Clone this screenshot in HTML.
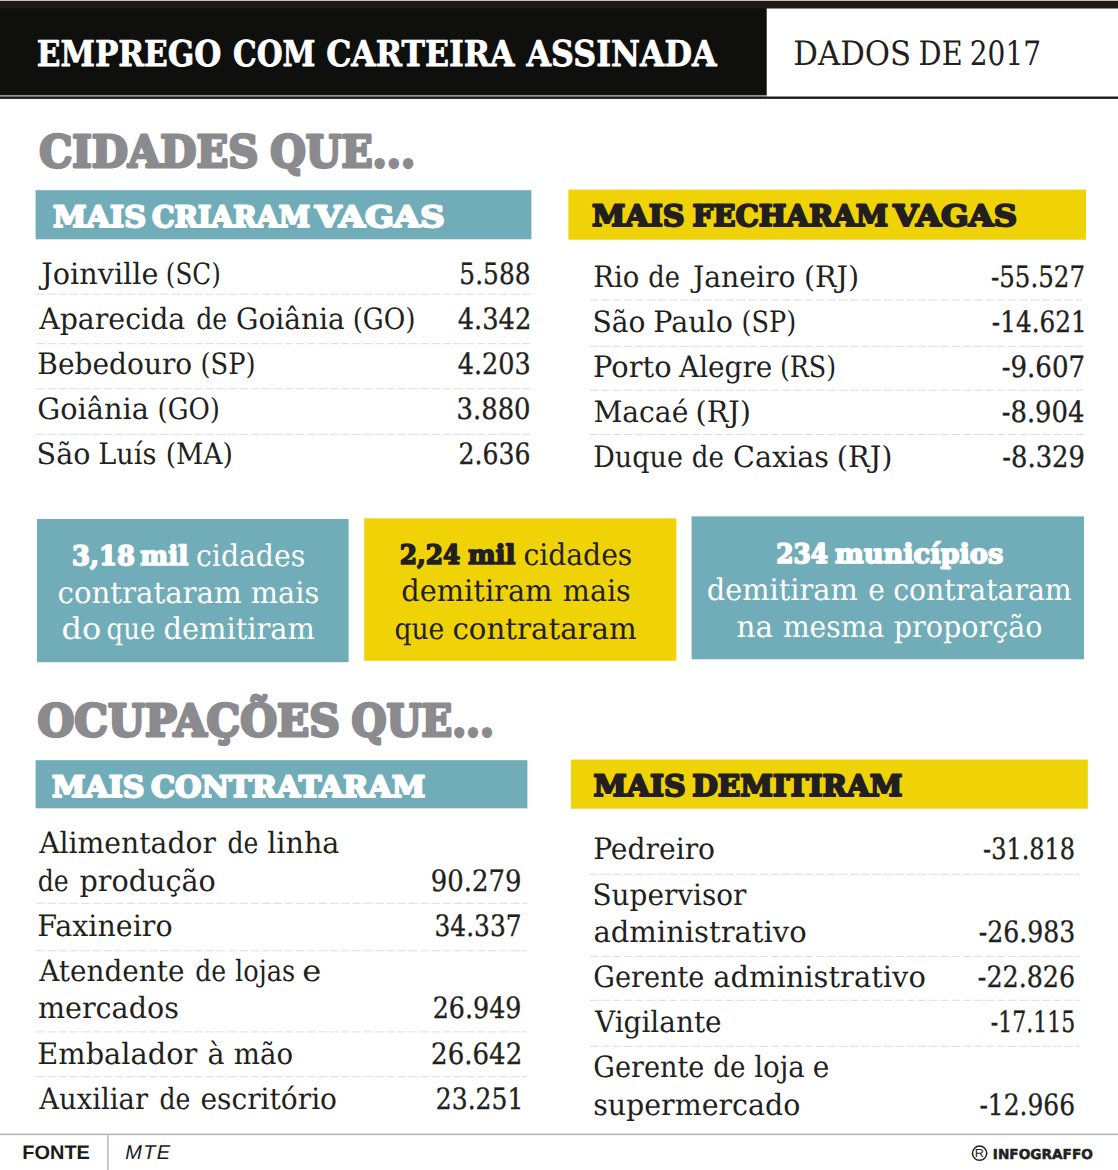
<!DOCTYPE html>
<html lang="pt-BR">
<head>
<meta charset="utf-8">
<title>Emprego com carteira assinada - Dados de 2017</title>
<style>
html,body{margin:0;padding:0;background:#ffffff;}
body{width:1118px;height:1170px;overflow:hidden;font-family:"DejaVu Serif", "Liberation Serif", serif;}
svg{display:block;}
text{white-space:pre;}
</style>
</head>
<body>
<svg width="1118" height="1170" viewBox="0 0 1118 1170" text-rendering="geometricPrecision">
<rect x="0" y="0" width="1118" height="1170" fill="#ffffff"/>
<rect x="0" y="0" width="1118" height="1" fill="#c9c3c1"/>
<rect x="0" y="8" width="766.7" height="87.4" fill="#0f0f0d"/>
<rect x="0" y="95.4" width="766.7" height="1.1" fill="#8f8c8a"/>
<rect x="0" y="1" width="1118" height="7.5" fill="#211714"/>
<rect x="0" y="96.5" width="1118" height="2.4" fill="#1e1a18"/>
<text y="65.5" font-family='"DejaVu Serif", "Liberation Serif", serif' font-size="35.6" font-weight="bold" fill="#ffffff" stroke="#ffffff" stroke-width="0.8" stroke-linejoin="round"><tspan x="36.80" textLength="184.63" lengthAdjust="spacingAndGlyphs">EMPREGO</tspan> <tspan x="233.01" textLength="82.39" lengthAdjust="spacingAndGlyphs">COM</tspan> <tspan x="326.14" textLength="188.33" lengthAdjust="spacingAndGlyphs">CARTEIRA</tspan> <tspan x="526.52" textLength="190.18" lengthAdjust="spacingAndGlyphs">ASSINADA</tspan></text>
<text y="65.2" font-family='"DejaVu Serif", "Liberation Serif", serif' font-size="33.6" font-weight="normal" fill="#231f20"><tspan x="793.31" textLength="117.87" lengthAdjust="spacingAndGlyphs">DADOS</tspan> <tspan x="918.62" textLength="44.03" lengthAdjust="spacingAndGlyphs">DE</tspan> <tspan x="969.78" textLength="71.39" lengthAdjust="spacingAndGlyphs">2017</tspan></text>
<text y="167.2" font-family='"DejaVu Serif", "Liberation Serif", serif' font-size="44" font-weight="bold" fill="#8b8b8f" stroke="#8b8b8f" stroke-width="3.0" stroke-linejoin="round"><tspan x="39.23" textLength="219.00" lengthAdjust="spacingAndGlyphs">CIDADES</tspan> <tspan x="270.27" textLength="144.99" lengthAdjust="spacingAndGlyphs">QUE...</tspan></text>
<rect x="35.6" y="190.2" width="495.8" height="49.1" fill="#71adb8"/>
<text y="226.6" font-family='"DejaVu Serif", "Liberation Serif", serif' font-size="29.3" font-weight="bold" fill="#ffffff" stroke="#ffffff" stroke-width="2.1" stroke-linejoin="round"><tspan x="53.04" textLength="92.96" lengthAdjust="spacingAndGlyphs">MAIS</tspan> <tspan x="152.02" textLength="157.95" lengthAdjust="spacingAndGlyphs">CRIARAM</tspan> <tspan x="314.99" textLength="129.66" lengthAdjust="spacingAndGlyphs">VAGAS</tspan></text>
<rect x="568.4" y="189.6" width="517.6" height="50.1" fill="#f0d306"/>
<text y="226.0" font-family='"DejaVu Serif", "Liberation Serif", serif' font-size="29.3" font-weight="bold" fill="#231f20" stroke="#231f20" stroke-width="2.1" stroke-linejoin="round"><tspan x="591.94" textLength="92.65" lengthAdjust="spacingAndGlyphs">MAIS</tspan> <tspan x="692.44" textLength="195.76" lengthAdjust="spacingAndGlyphs">FECHARAM</tspan> <tspan x="893.37" textLength="123.69" lengthAdjust="spacingAndGlyphs">VAGAS</tspan></text>
<text y="284.1" font-family='"DejaVu Serif", "Liberation Serif", serif' font-size="29.4" font-weight="normal" fill="#231f20"><tspan x="41.34" textLength="117.04" lengthAdjust="spacingAndGlyphs">Joinville</tspan> <tspan x="165.85" textLength="54.91" lengthAdjust="spacingAndGlyphs">(SC)</tspan></text>
<text x="459.36" y="284.1" font-family='"DejaVu Serif", "Liberation Serif", serif' font-size="29.4" font-weight="normal" fill="#231f20" stroke="#231f20" stroke-width="0.35" stroke-linejoin="round" textLength="71.15" lengthAdjust="spacingAndGlyphs">5.588</text>
<text y="329.4" font-family='"DejaVu Serif", "Liberation Serif", serif' font-size="29.4" font-weight="normal" fill="#231f20"><tspan x="39.18" textLength="146.11" lengthAdjust="spacingAndGlyphs">Aparecida</tspan> <tspan x="196.27" textLength="31.01" lengthAdjust="spacingAndGlyphs">de</tspan> <tspan x="235.96" textLength="108.90" lengthAdjust="spacingAndGlyphs">Goiânia</tspan> <tspan x="352.63" textLength="62.91" lengthAdjust="spacingAndGlyphs">(GO)</tspan></text>
<text x="457.70" y="329.4" font-family='"DejaVu Serif", "Liberation Serif", serif' font-size="29.4" font-weight="normal" fill="#231f20" stroke="#231f20" stroke-width="0.35" stroke-linejoin="round" textLength="73.64" lengthAdjust="spacingAndGlyphs">4.342</text>
<text y="374.3" font-family='"DejaVu Serif", "Liberation Serif", serif' font-size="29.4" font-weight="normal" fill="#231f20"><tspan x="37.36" textLength="154.90" lengthAdjust="spacingAndGlyphs">Bebedouro</tspan> <tspan x="200.57" textLength="55.02" lengthAdjust="spacingAndGlyphs">(SP)</tspan></text>
<text x="457.71" y="374.3" font-family='"DejaVu Serif", "Liberation Serif", serif' font-size="29.4" font-weight="normal" fill="#231f20" stroke="#231f20" stroke-width="0.35" stroke-linejoin="round" textLength="72.97" lengthAdjust="spacingAndGlyphs">4.203</text>
<text y="419.2" font-family='"DejaVu Serif", "Liberation Serif", serif' font-size="29.4" font-weight="normal" fill="#231f20"><tspan x="37.32" textLength="111.56" lengthAdjust="spacingAndGlyphs">Goiânia</tspan> <tspan x="157.55" textLength="62.37" lengthAdjust="spacingAndGlyphs">(GO)</tspan></text>
<text x="456.54" y="419.2" font-family='"DejaVu Serif", "Liberation Serif", serif' font-size="29.4" font-weight="normal" fill="#231f20" stroke="#231f20" stroke-width="0.35" stroke-linejoin="round" textLength="74.05" lengthAdjust="spacingAndGlyphs">3.880</text>
<text y="464.4" font-family='"DejaVu Serif", "Liberation Serif", serif' font-size="29.4" font-weight="normal" fill="#231f20"><tspan x="36.62" textLength="53.76" lengthAdjust="spacingAndGlyphs">São</tspan> <tspan x="98.31" textLength="58.15" lengthAdjust="spacingAndGlyphs">Luís</tspan> <tspan x="165.70" textLength="67.34" lengthAdjust="spacingAndGlyphs">(MA)</tspan></text>
<text x="458.44" y="464.4" font-family='"DejaVu Serif", "Liberation Serif", serif' font-size="29.4" font-weight="normal" fill="#231f20" stroke="#231f20" stroke-width="0.35" stroke-linejoin="round" textLength="71.96" lengthAdjust="spacingAndGlyphs">2.636</text>
<line x1="36" y1="294.2" x2="531" y2="294.2" stroke="#dcdcdc" stroke-width="1" stroke-dasharray="8.5 2.8"/>
<line x1="36" y1="343.7" x2="531" y2="343.7" stroke="#dcdcdc" stroke-width="1" stroke-dasharray="8.5 2.8"/>
<line x1="36" y1="388.8" x2="531" y2="388.8" stroke="#dcdcdc" stroke-width="1" stroke-dasharray="8.5 2.8"/>
<line x1="36" y1="434.3" x2="531" y2="434.3" stroke="#dcdcdc" stroke-width="1" stroke-dasharray="8.5 2.8"/>
<text y="286.7" font-family='"DejaVu Serif", "Liberation Serif", serif' font-size="29.4" font-weight="normal" fill="#231f20"><tspan x="593.19" textLength="46.04" lengthAdjust="spacingAndGlyphs">Rio</tspan> <tspan x="648.24" textLength="31.66" lengthAdjust="spacingAndGlyphs">de</tspan> <tspan x="692.90" textLength="102.75" lengthAdjust="spacingAndGlyphs">Janeiro</tspan> <tspan x="803.96" textLength="55.26" lengthAdjust="spacingAndGlyphs">(RJ)</tspan></text>
<text x="991.00" y="286.7" font-family='"DejaVu Serif", "Liberation Serif", serif' font-size="29.4" font-weight="normal" fill="#231f20" stroke="#231f20" stroke-width="0.35" stroke-linejoin="round" textLength="93.99" lengthAdjust="spacingAndGlyphs">-55.527</text>
<text y="332.0" font-family='"DejaVu Serif", "Liberation Serif", serif' font-size="29.4" font-weight="normal" fill="#231f20"><tspan x="592.45" textLength="52.90" lengthAdjust="spacingAndGlyphs">São</tspan> <tspan x="653.23" textLength="79.76" lengthAdjust="spacingAndGlyphs">Paulo</tspan> <tspan x="741.59" textLength="54.59" lengthAdjust="spacingAndGlyphs">(SP)</tspan></text>
<text x="991.79" y="332.0" font-family='"DejaVu Serif", "Liberation Serif", serif' font-size="29.4" font-weight="normal" fill="#231f20" stroke="#231f20" stroke-width="0.35" stroke-linejoin="round" textLength="94.95" lengthAdjust="spacingAndGlyphs">-14.621</text>
<text y="377.2" font-family='"DejaVu Serif", "Liberation Serif", serif' font-size="29.4" font-weight="normal" fill="#231f20"><tspan x="593.11" textLength="78.43" lengthAdjust="spacingAndGlyphs">Porto</tspan> <tspan x="678.98" textLength="93.38" lengthAdjust="spacingAndGlyphs">Alegre</tspan> <tspan x="779.90" textLength="56.16" lengthAdjust="spacingAndGlyphs">(RS)</tspan></text>
<text x="1001.73" y="377.2" font-family='"DejaVu Serif", "Liberation Serif", serif' font-size="29.4" font-weight="normal" fill="#231f20" stroke="#231f20" stroke-width="0.35" stroke-linejoin="round" textLength="83.33" lengthAdjust="spacingAndGlyphs">-9.607</text>
<text y="422.3" font-family='"DejaVu Serif", "Liberation Serif", serif' font-size="29.4" font-weight="normal" fill="#231f20"><tspan x="593.43" textLength="94.92" lengthAdjust="spacingAndGlyphs">Macaé</tspan> <tspan x="695.55" textLength="55.37" lengthAdjust="spacingAndGlyphs">(RJ)</tspan></text>
<text x="1001.74" y="422.3" font-family='"DejaVu Serif", "Liberation Serif", serif' font-size="29.4" font-weight="normal" fill="#231f20" stroke="#231f20" stroke-width="0.35" stroke-linejoin="round" textLength="82.67" lengthAdjust="spacingAndGlyphs">-8.904</text>
<text y="467.4" font-family='"DejaVu Serif", "Liberation Serif", serif' font-size="29.4" font-weight="normal" fill="#231f20"><tspan x="593.22" textLength="89.65" lengthAdjust="spacingAndGlyphs">Duque</tspan> <tspan x="691.83" textLength="32.10" lengthAdjust="spacingAndGlyphs">de</tspan> <tspan x="733.03" textLength="95.99" lengthAdjust="spacingAndGlyphs">Caxias</tspan> <tspan x="836.84" textLength="55.59" lengthAdjust="spacingAndGlyphs">(RJ)</tspan></text>
<text x="1002.34" y="467.4" font-family='"DejaVu Serif", "Liberation Serif", serif' font-size="29.4" font-weight="normal" fill="#231f20" stroke="#231f20" stroke-width="0.35" stroke-linejoin="round" textLength="82.58" lengthAdjust="spacingAndGlyphs">-8.329</text>
<line x1="590" y1="300.0" x2="1083" y2="300.0" stroke="#dcdcdc" stroke-width="1" stroke-dasharray="8.5 2.8"/>
<line x1="590" y1="346.3" x2="1083" y2="346.3" stroke="#dcdcdc" stroke-width="1" stroke-dasharray="8.5 2.8"/>
<line x1="590" y1="390.2" x2="1083" y2="390.2" stroke="#dcdcdc" stroke-width="1" stroke-dasharray="8.5 2.8"/>
<line x1="590" y1="434.5" x2="1083" y2="434.5" stroke="#dcdcdc" stroke-width="1" stroke-dasharray="8.5 2.8"/>
<rect x="37" y="519" width="311.6" height="143.2" fill="#71adb8"/>
<text y="565.0" font-family='"DejaVu Serif", "Liberation Serif", serif' font-size="26.9" font-weight="bold" fill="#ffffff" stroke="#ffffff" stroke-width="1.7" stroke-linejoin="round"><tspan x="71.97" textLength="62.88" lengthAdjust="spacingAndGlyphs">3,18</tspan> <tspan x="140.26" textLength="47.90" lengthAdjust="spacingAndGlyphs">mil</tspan></text>
<text x="196.03" y="565.7" font-family='"DejaVu Serif", "Liberation Serif", serif' font-size="29.8" font-weight="normal" fill="#ffffff" textLength="109.18" lengthAdjust="spacingAndGlyphs">cidades</text>
<text y="603.2" font-family='"DejaVu Serif", "Liberation Serif", serif' font-size="29.8" font-weight="normal" fill="#ffffff"><tspan x="57.59" textLength="184.08" lengthAdjust="spacingAndGlyphs">contrataram</tspan> <tspan x="250.79" textLength="68.37" lengthAdjust="spacingAndGlyphs">mais</tspan></text>
<text y="639.4" font-family='"DejaVu Serif", "Liberation Serif", serif' font-size="29.8" font-weight="normal" fill="#ffffff"><tspan x="61.46" textLength="39.64" lengthAdjust="spacingAndGlyphs">do</tspan> <tspan x="106.53" textLength="48.77" lengthAdjust="spacingAndGlyphs">que</tspan> <tspan x="163.50" textLength="151.40" lengthAdjust="spacingAndGlyphs">demitiram</tspan></text>
<rect x="364.2" y="518.4" width="312.2" height="142.3" fill="#f0d306"/>
<text y="563.6" font-family='"DejaVu Serif", "Liberation Serif", serif' font-size="26.9" font-weight="bold" fill="#231f20" stroke="#231f20" stroke-width="1.7" stroke-linejoin="round"><tspan x="399.83" textLength="60.52" lengthAdjust="spacingAndGlyphs">2,24</tspan> <tspan x="467.97" textLength="47.38" lengthAdjust="spacingAndGlyphs">mil</tspan></text>
<text x="523.53" y="564.5" font-family='"DejaVu Serif", "Liberation Serif", serif' font-size="29.8" font-weight="normal" fill="#231f20" textLength="108.77" lengthAdjust="spacingAndGlyphs">cidades</text>
<text y="601.3" font-family='"DejaVu Serif", "Liberation Serif", serif' font-size="29.8" font-weight="normal" fill="#231f20"><tspan x="401.30" textLength="151.10" lengthAdjust="spacingAndGlyphs">demitiram</tspan> <tspan x="562.80" textLength="67.96" lengthAdjust="spacingAndGlyphs">mais</tspan></text>
<text y="638.7" font-family='"DejaVu Serif", "Liberation Serif", serif' font-size="29.8" font-weight="normal" fill="#231f20"><tspan x="394.40" textLength="49.92" lengthAdjust="spacingAndGlyphs">que</tspan> <tspan x="452.49" textLength="184.18" lengthAdjust="spacingAndGlyphs">contrataram</tspan></text>
<rect x="691.6" y="516.4" width="392.4" height="142.9" fill="#71adb8"/>
<text y="562.6" font-family='"DejaVu Serif", "Liberation Serif", serif' font-size="26.9" font-weight="bold" fill="#ffffff" stroke="#ffffff" stroke-width="1.7" stroke-linejoin="round"><tspan x="776.13" textLength="51.97" lengthAdjust="spacingAndGlyphs">234</tspan> <tspan x="834.93" textLength="168.41" lengthAdjust="spacingAndGlyphs">municípios</tspan></text>
<text y="600.2" font-family='"DejaVu Serif", "Liberation Serif", serif' font-size="29.8" font-weight="normal" fill="#ffffff"><tspan x="706.70" textLength="151.20" lengthAdjust="spacingAndGlyphs">demitiram</tspan> <tspan x="868.14" textLength="16.57" lengthAdjust="spacingAndGlyphs">e</tspan> <tspan x="893.23" textLength="178.42" lengthAdjust="spacingAndGlyphs">contrataram</tspan></text>
<text y="637.3" font-family='"DejaVu Serif", "Liberation Serif", serif' font-size="29.8" font-weight="normal" fill="#ffffff"><tspan x="736.57" textLength="36.58" lengthAdjust="spacingAndGlyphs">na</tspan> <tspan x="782.91" textLength="101.27" lengthAdjust="spacingAndGlyphs">mesma</tspan> <tspan x="893.78" textLength="148.81" lengthAdjust="spacingAndGlyphs">proporção</tspan></text>
<text y="735.8" font-family='"DejaVu Serif", "Liberation Serif", serif' font-size="44" font-weight="bold" fill="#8b8b8f" stroke="#8b8b8f" stroke-width="3.0" stroke-linejoin="round"><tspan x="37.41" textLength="302.45" lengthAdjust="spacingAndGlyphs">OCUPAÇÕES</tspan> <tspan x="351.49" textLength="142.61" lengthAdjust="spacingAndGlyphs">QUE...</tspan></text>
<rect x="35.6" y="760.2" width="491.8" height="48.1" fill="#71adb8"/>
<text y="796.6" font-family='"DejaVu Serif", "Liberation Serif", serif' font-size="29.3" font-weight="bold" fill="#ffffff" stroke="#ffffff" stroke-width="2.1" stroke-linejoin="round"><tspan x="52.05" textLength="92.44" lengthAdjust="spacingAndGlyphs">MAIS</tspan> <tspan x="150.94" textLength="274.27" lengthAdjust="spacingAndGlyphs">CONTRATARAM</tspan></text>
<rect x="571" y="759.6" width="516.8" height="49.1" fill="#f0d306"/>
<text y="795.6" font-family='"DejaVu Serif", "Liberation Serif", serif' font-size="29.3" font-weight="bold" fill="#231f20" stroke="#231f20" stroke-width="2.1" stroke-linejoin="round"><tspan x="593.55" textLength="92.03" lengthAdjust="spacingAndGlyphs">MAIS</tspan> <tspan x="692.22" textLength="210.31" lengthAdjust="spacingAndGlyphs">DEMITIRAM</tspan></text>
<text y="853.1" font-family='"DejaVu Serif", "Liberation Serif", serif' font-size="29.4" font-weight="normal" fill="#231f20"><tspan x="39.18" textLength="176.80" lengthAdjust="spacingAndGlyphs">Alimentador</tspan> <tspan x="227.47" textLength="30.91" lengthAdjust="spacingAndGlyphs">de</tspan> <tspan x="267.18" textLength="72.20" lengthAdjust="spacingAndGlyphs">linha</tspan></text>
<text y="891.2" font-family='"DejaVu Serif", "Liberation Serif", serif' font-size="29.4" font-weight="normal" fill="#231f20"><tspan x="37.77" textLength="31.01" lengthAdjust="spacingAndGlyphs">de</tspan> <tspan x="79.38" textLength="136.38" lengthAdjust="spacingAndGlyphs">produção</tspan></text>
<text x="430.82" y="891.2" font-family='"DejaVu Serif", "Liberation Serif", serif' font-size="29.4" font-weight="normal" fill="#231f20" stroke="#231f20" stroke-width="0.35" stroke-linejoin="round" textLength="90.67" lengthAdjust="spacingAndGlyphs">90.279</text>
<text x="37.33" y="936.4" font-family='"DejaVu Serif", "Liberation Serif", serif' font-size="29.4" font-weight="normal" fill="#231f20" textLength="135.30" lengthAdjust="spacingAndGlyphs">Faxineiro</text>
<text x="434.51" y="936.4" font-family='"DejaVu Serif", "Liberation Serif", serif' font-size="29.4" font-weight="normal" fill="#231f20" stroke="#231f20" stroke-width="0.35" stroke-linejoin="round" textLength="87.04" lengthAdjust="spacingAndGlyphs">34.337</text>
<text y="980.9" font-family='"DejaVu Serif", "Liberation Serif", serif' font-size="29.4" font-weight="normal" fill="#231f20"><tspan x="39.18" textLength="145.23" lengthAdjust="spacingAndGlyphs">Atendente</tspan> <tspan x="195.27" textLength="30.91" lengthAdjust="spacingAndGlyphs">de</tspan> <tspan x="235.06" textLength="60.13" lengthAdjust="spacingAndGlyphs">lojas</tspan> <tspan x="302.25" textLength="19.06" lengthAdjust="spacingAndGlyphs">e</tspan></text>
<text x="37.90" y="1018.4" font-family='"DejaVu Serif", "Liberation Serif", serif' font-size="29.4" font-weight="normal" fill="#231f20" textLength="140.92" lengthAdjust="spacingAndGlyphs">mercados</text>
<text x="432.73" y="1018.4" font-family='"DejaVu Serif", "Liberation Serif", serif' font-size="29.4" font-weight="normal" fill="#231f20" stroke="#231f20" stroke-width="0.35" stroke-linejoin="round" textLength="88.72" lengthAdjust="spacingAndGlyphs">26.949</text>
<text y="1063.6" font-family='"DejaVu Serif", "Liberation Serif", serif' font-size="29.4" font-weight="normal" fill="#231f20"><tspan x="37.31" textLength="159.97" lengthAdjust="spacingAndGlyphs">Embalador</tspan> <tspan x="207.61" textLength="17.03" lengthAdjust="spacingAndGlyphs">à</tspan> <tspan x="233.73" textLength="59.35" lengthAdjust="spacingAndGlyphs">mão</tspan></text>
<text x="431.08" y="1063.6" font-family='"DejaVu Serif", "Liberation Serif", serif' font-size="29.4" font-weight="normal" fill="#231f20" stroke="#231f20" stroke-width="0.35" stroke-linejoin="round" textLength="91.20" lengthAdjust="spacingAndGlyphs">26.642</text>
<text y="1109.2" font-family='"DejaVu Serif", "Liberation Serif", serif' font-size="29.4" font-weight="normal" fill="#231f20"><tspan x="39.17" textLength="108.90" lengthAdjust="spacingAndGlyphs">Auxiliar</tspan> <tspan x="159.47" textLength="30.91" lengthAdjust="spacingAndGlyphs">de</tspan> <tspan x="200.44" textLength="136.58" lengthAdjust="spacingAndGlyphs">escritório</tspan></text>
<text x="435.85" y="1109.2" font-family='"DejaVu Serif", "Liberation Serif", serif' font-size="29.4" font-weight="normal" fill="#231f20" stroke="#231f20" stroke-width="0.35" stroke-linejoin="round" textLength="87.45" lengthAdjust="spacingAndGlyphs">23.251</text>
<line x1="36" y1="903.3" x2="527.4" y2="903.3" stroke="#dcdcdc" stroke-width="1" stroke-dasharray="8.5 2.8"/>
<line x1="36" y1="950.8" x2="527.4" y2="950.8" stroke="#dcdcdc" stroke-width="1" stroke-dasharray="8.5 2.8"/>
<line x1="36" y1="1031.9" x2="527.4" y2="1031.9" stroke="#dcdcdc" stroke-width="1" stroke-dasharray="8.5 2.8"/>
<line x1="36" y1="1076.7" x2="527.4" y2="1076.7" stroke="#dcdcdc" stroke-width="1" stroke-dasharray="8.5 2.8"/>
<text x="593.15" y="859.3" font-family='"DejaVu Serif", "Liberation Serif", serif' font-size="29.4" font-weight="normal" fill="#231f20" textLength="121.91" lengthAdjust="spacingAndGlyphs">Pedreiro</text>
<text x="983.12" y="859.3" font-family='"DejaVu Serif", "Liberation Serif", serif' font-size="29.4" font-weight="normal" fill="#231f20" stroke="#231f20" stroke-width="0.35" stroke-linejoin="round" textLength="92.02" lengthAdjust="spacingAndGlyphs">-31.818</text>
<text x="592.47" y="904.6" font-family='"DejaVu Serif", "Liberation Serif", serif' font-size="29.4" font-weight="normal" fill="#231f20" textLength="153.95" lengthAdjust="spacingAndGlyphs">Supervisor</text>
<text x="593.39" y="942.4" font-family='"DejaVu Serif", "Liberation Serif", serif' font-size="29.4" font-weight="normal" fill="#231f20" textLength="213.35" lengthAdjust="spacingAndGlyphs">administrativo</text>
<text x="978.77" y="942.4" font-family='"DejaVu Serif", "Liberation Serif", serif' font-size="29.4" font-weight="normal" fill="#231f20" stroke="#231f20" stroke-width="0.35" stroke-linejoin="round" textLength="96.57" lengthAdjust="spacingAndGlyphs">-26.983</text>
<text y="987.4" font-family='"DejaVu Serif", "Liberation Serif", serif' font-size="29.4" font-weight="normal" fill="#231f20"><tspan x="593.21" textLength="111.20" lengthAdjust="spacingAndGlyphs">Gerente</tspan> <tspan x="713.20" textLength="212.64" lengthAdjust="spacingAndGlyphs">administrativo</tspan></text>
<text x="977.86" y="987.4" font-family='"DejaVu Serif", "Liberation Serif", serif' font-size="29.4" font-weight="normal" fill="#231f20" stroke="#231f20" stroke-width="0.35" stroke-linejoin="round" textLength="97.24" lengthAdjust="spacingAndGlyphs">-22.826</text>
<text x="594.98" y="1032.2" font-family='"DejaVu Serif", "Liberation Serif", serif' font-size="29.4" font-weight="normal" fill="#231f20" textLength="126.67" lengthAdjust="spacingAndGlyphs">Vigilante</text>
<text x="990.79" y="1032.2" font-family='"DejaVu Serif", "Liberation Serif", serif' font-size="29.4" font-weight="normal" fill="#231f20" stroke="#231f20" stroke-width="0.35" stroke-linejoin="round" textLength="84.43" lengthAdjust="spacingAndGlyphs">-17.115</text>
<text y="1077.2" font-family='"DejaVu Serif", "Liberation Serif", serif' font-size="29.4" font-weight="normal" fill="#231f20"><tspan x="593.21" textLength="111.20" lengthAdjust="spacingAndGlyphs">Gerente</tspan> <tspan x="713.33" textLength="32.10" lengthAdjust="spacingAndGlyphs">de</tspan> <tspan x="754.21" textLength="50.57" lengthAdjust="spacingAndGlyphs">loja</tspan> <tspan x="812.74" textLength="16.57" lengthAdjust="spacingAndGlyphs">e</tspan></text>
<text x="593.14" y="1115.0" font-family='"DejaVu Serif", "Liberation Serif", serif' font-size="29.4" font-weight="normal" fill="#231f20" textLength="207.15" lengthAdjust="spacingAndGlyphs">supermercado</text>
<text x="979.38" y="1115.0" font-family='"DejaVu Serif", "Liberation Serif", serif' font-size="29.4" font-weight="normal" fill="#231f20" stroke="#231f20" stroke-width="0.35" stroke-linejoin="round" textLength="95.69" lengthAdjust="spacingAndGlyphs">-12.966</text>
<line x1="590" y1="874.2" x2="1080.4" y2="874.2" stroke="#dcdcdc" stroke-width="1" stroke-dasharray="8.5 2.8"/>
<line x1="590" y1="956.4" x2="1080.4" y2="956.4" stroke="#dcdcdc" stroke-width="1" stroke-dasharray="8.5 2.8"/>
<line x1="590" y1="1000.3" x2="1080.4" y2="1000.3" stroke="#dcdcdc" stroke-width="1" stroke-dasharray="8.5 2.8"/>
<line x1="590" y1="1046.3" x2="1080.4" y2="1046.3" stroke="#dcdcdc" stroke-width="1" stroke-dasharray="8.5 2.8"/>
<rect x="0" y="1133.6" width="1118" height="1.5" fill="#b4b4b4"/>
<rect x="107.2" y="1134" width="1.4" height="36" fill="#b4b4b4"/>
<text x="22.30" y="1158.7" font-family='"Liberation Sans", "DejaVu Sans", sans-serif' font-size="19.5" font-weight="bold" fill="#1a1a1a" textLength="67.57" lengthAdjust="spacingAndGlyphs">FONTE</text>
<text x="125.16" y="1158.7" font-family='"Liberation Sans", "DejaVu Sans", sans-serif' font-size="20" font-weight="normal" fill="#1a1a1a" font-style="italic" textLength="44.84" lengthAdjust="spacing">MTE</text>
<circle cx="979.6" cy="1153.2" r="7.1" fill="none" stroke="#231f20" stroke-width="1.5"/>
<text x="974.87" y="1157.4" font-family='"Liberation Sans", "DejaVu Sans", sans-serif' font-size="11.5" font-weight="normal" fill="#231f20" textLength="9.27" lengthAdjust="spacingAndGlyphs">R</text>
<text x="992.82" y="1159" font-family='"DejaVu Sans", "Liberation Sans", sans-serif' font-size="13.6" font-weight="bold" fill="#231f20" stroke="#231f20" stroke-width="0.5" stroke-linejoin="round" textLength="100.09" lengthAdjust="spacingAndGlyphs">INFOGRAFFO</text>
</svg>
</body>
</html>
